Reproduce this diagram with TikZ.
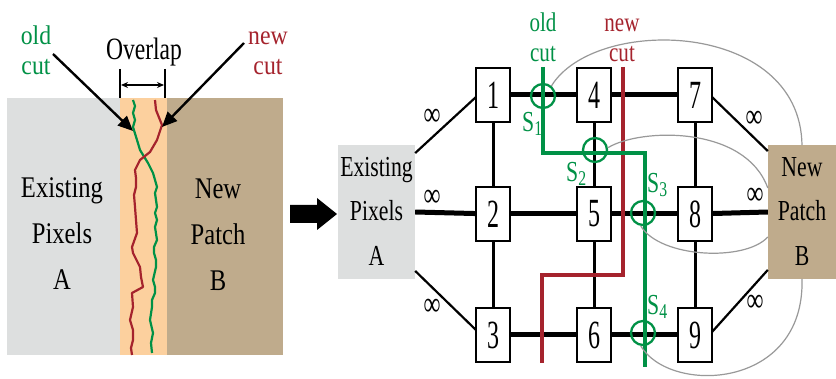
\documentclass[tikz,border=0pt]{standalone}
\usepackage{fontspec}
\setmainfont{Liberation Serif}
\usepackage{graphicx}
\usetikzlibrary{arrows.meta,calc}
\definecolor{pixgray}{RGB}{221,223,223}
\definecolor{peach}{RGB}{252,208,158}
\definecolor{tanB}{RGB}{191,171,140}
\definecolor{ocgreen}{RGB}{0,145,70}
\definecolor{ncred}{RGB}{165,35,45}
\newcommand\hsq[2]{\scalebox{#1}[1]{#2}}
\begin{document}
\begin{tikzpicture}[x=1pt,y=-1pt,
  numbox/.style={draw, line width=2pt, fill=white, minimum width=34pt, minimum height=54pt, inner sep=0pt, font=\fontsize{40}{40}\selectfont},
  pixbox/.style={fill=pixgray, minimum width=77pt, minimum height=120pt, inner sep=0pt, font=\fontsize{29}{44.5}\selectfont},
  patchbox/.style={fill=tanB, minimum width=68pt, minimum height=120pt, inner sep=0pt, font=\fontsize{29}{44.5}\selectfont},
  thickedge/.style={line width=5pt},
  vedge/.style={line width=3pt},
  dedge/.style={line width=2.2pt},
  cutline/.style={line width=3.5pt},
  scircle/.style={circle, draw=ocgreen, line width=2.3pt, minimum size=24pt, inner sep=0pt},
  graycurve/.style={draw=gray!80, line width=1.2pt},
  inflbl/.style={inner sep=0pt, font=\fontsize{34}{34}\selectfont},
  slbl/.style={inner sep=0pt, anchor=base west, text=ocgreen, font=\fontsize{29}{29}\selectfont},
  bigtxt/.style={inner sep=0pt, font=\fontsize{30}{46}\selectfont},
  cutlbl/.style={inner sep=0pt, font=\fontsize{27}{30}\selectfont},
  pointer/.style={line width=2.4pt, -{Triangle[length=15pt,width=13pt]}}
]
\useasboundingbox (0,0) rectangle (836,379);
\fill[white] (0,0) rectangle (836,379);

% ---------------- left panel ----------------
\fill[pixgray] (7,98) rectangle (120,355);
\fill[peach] (120,98) rectangle (167,355);
\fill[tanB] (167,98) rectangle (283,355);

\draw[ocgreen, line width=2.2pt, line join=round]
 (133,100) -- (135,106) -- (133,113) -- (135,120) -- (133,127) -- (137,140) -- (140,150)
 -- (148,163) -- (153,173) -- (157,187) -- (155,193) -- (156,200) -- (157,207) -- (155,213)
 -- (157,220) -- (155,227) -- (157,240) -- (154,247) -- (154,253) -- (156,260) -- (156,267)
 -- (153,280) -- (155,287) -- (155,293) -- (152,300) -- (152,307) -- (150,320) -- (153,333)
 -- (151,343) -- (152,353);
\draw[ncred, line width=2.2pt, line join=round]
 (155,100) -- (156,110) -- (162,125) -- (157,140) -- (150,152) -- (140,160) -- (135,170)
 -- (136,178) -- (136,187) -- (134,195) -- (135,207) -- (136,220) -- (137,233) -- (132,247)
 -- (133,253) -- (140,267) -- (141,277) -- (143,287) -- (132,293) -- (133,307) -- (130,320)
 -- (133,330) -- (133,340) -- (131,348) -- (132,355);

\node[bigtxt] (exL) at (62,234.5) {\hsq{0.82}{\begin{tabular}{@{}c@{}}Existing\\Pixels\\A\end{tabular}}};
\node[bigtxt] (npL) at (218,235) {\hsq{0.82}{\begin{tabular}{@{}c@{}}New\\Patch\\B\end{tabular}}};

\node[inner sep=0pt, anchor=base, font=\fontsize{31}{31}\selectfont] (ovl) at (144,60) {\hsq{0.76}{Overlap}};
\draw[line width=1.2pt] (120,69) -- (120,98);
\draw[line width=1.2pt] (165,69) -- (165,98);
\draw[line width=1.2pt, {Stealth[length=7pt,width=6pt]}-{Stealth[length=7pt,width=6pt]}] (121,85) -- (164,85);

\node[cutlbl, text=ocgreen] (oldL) at (36,54) {\hsq{0.88}{\begin{tabular}{@{}c@{}}old\\cut\end{tabular}}};
\node[cutlbl, text=ncred] (newL) at (268,54) {\hsq{0.88}{\begin{tabular}{@{}c@{}}new\\cut\end{tabular}}};
\coordinate (oldS) at (53,54);
\coordinate (oldT) at (133,131);
\coordinate (newS) at (244,43);
\coordinate (newT) at (162,127);
\draw[pointer] (oldS) -- (oldT);
\draw[pointer] (newS) -- (newT);

% block arrow
\fill[black] (290,205) -- (317,205) -- (317,198) -- (337,214) -- (317,230) -- (317,223) -- (290,223) -- cycle;

% ---------------- right panel ----------------
\node[pixbox] (A) at (376.5,212) {\hsq{0.75}{\begin{tabular}{@{}c@{}}Existing\\Pixels\\A\end{tabular}}};
\node[patchbox] (B) at (802,212) {\hsq{0.75}{\begin{tabular}{@{}c@{}}New\\Patch\\B\end{tabular}}};

\coordinate (n1) at (493,95);
\coordinate (n2) at (493,214);
\coordinate (n3) at (493,335);
\coordinate (n4) at (594,95);
\coordinate (n5) at (594,214);
\coordinate (n6) at (594,335);
\coordinate (n7) at (695,95);
\coordinate (n8) at (695,214);
\coordinate (n9) at (695,335);

% edges
\draw[thickedge] (n1) -- (n4); \draw[thickedge] (n4) -- (n7);
\draw[thickedge] (A.east) -- (n2); \draw[thickedge] (n2) -- (n5);
\draw[thickedge] (n5) -- (n8); \draw[thickedge] (n8) -- (B.west);
\draw[thickedge] (n3) -- (n6); \draw[thickedge] (n6) -- (n9);
\draw[vedge] (n1) -- (n2); \draw[vedge] (n2) -- (n3);
\draw[vedge] (n4) -- (n5); \draw[vedge] (n5) -- (n6);
\draw[vedge] (n7) -- (n8); \draw[vedge] (n8) -- (n9);
\draw[dedge] ([yshift=-8pt]A.north east) -- ($(n1)+(-17,2)$);
\draw[dedge] ([yshift=8pt]A.south east) -- ($(n3)+(-17,-5)$);
\draw[dedge] ($(n7)+(17,2)$) -- ([yshift=-6pt]B.north west);
\draw[dedge] ($(n9)+(17,-3)$) -- ([yshift=9pt]B.south west);

% boxes on top of edges
\node[numbox] (b1) at (n1) {\hsq{0.6}{1}};
\node[numbox] (b2) at (n2) {\hsq{0.6}{2}};
\node[numbox] (b3) at (n3) {\hsq{0.6}{3}};
\node[numbox] (b4) at (n4) {\hsq{0.6}{4}};
\node[numbox] (b5) at (n5) {\hsq{0.6}{5}};
\node[numbox] (b6) at (n6) {\hsq{0.6}{6}};
\node[numbox] (b7) at (n7) {\hsq{0.6}{7}};
\node[numbox] (b8) at (n8) {\hsq{0.6}{8}};
\node[numbox] (b9) at (n9) {\hsq{0.6}{9}};

% infinity labels
\node[inflbl] (i1) at (432,117) {\hsq{0.7}{∞}};
\node[inflbl] (i2) at (432,198) {\hsq{0.7}{∞}};
\node[inflbl] (i3) at (432,307) {\hsq{0.7}{∞}};
\node[inflbl] (i7) at (754,119) {\hsq{0.7}{∞}};
\node[inflbl] (i8) at (755,196) {\hsq{0.7}{∞}};
\node[inflbl] (i9) at (755,303) {\hsq{0.7}{∞}};

% cuts
\draw[cutline, ncred] (623,67) -- (623,275) -- (542,275) -- (542,363);
\draw[cutline, ocgreen] (543,67) -- (543,153) -- (645,153) -- (645,367);

\node[scircle] (s1) at (543,96) {};
\node[scircle] (s2) at (595,150) {};
\node[scircle] (s3) at (643,213) {};
\node[scircle] (s4) at (643,333) {};

% gray curves to B
\draw[graycurve] (s1.50) .. controls (595,15) and (800,20) .. (B.north);
\draw[graycurve] (s2.10) .. controls (640,128) and (745,125) .. ([yshift=24pt]B.west);
\draw[graycurve] (s3.-100) .. controls (660,258) and (745,262) .. ([yshift=-25pt]B.west);
\draw[graycurve] (s4.-100) .. controls (670,395) and (805,390) .. (B.south);

% labels
\node[cutlbl, text=ocgreen] (oldR) at (543,41) {\hsq{0.78}{\begin{tabular}{@{}c@{}}old\\cut\end{tabular}}};
\node[cutlbl, text=ncred] (newR) at (622,41) {\hsq{0.78}{\begin{tabular}{@{}c@{}}new\\cut\end{tabular}}};

\node[slbl] (l1) at (522,132) {\hsq{0.75}{S\raisebox{-0.25ex}{\fontsize{21}{21}\selectfont 1}}};
\node[slbl] (l2) at (566,182) {\hsq{0.75}{S\raisebox{-0.25ex}{\fontsize{21}{21}\selectfont 2}}};
\node[slbl] (l3) at (647,193) {\hsq{0.75}{S\raisebox{-0.25ex}{\fontsize{21}{21}\selectfont 3}}};
\node[slbl] (l4) at (647,315) {\hsq{0.75}{S\raisebox{-0.25ex}{\fontsize{21}{21}\selectfont 4}}};
\end{tikzpicture}
\end{document}
